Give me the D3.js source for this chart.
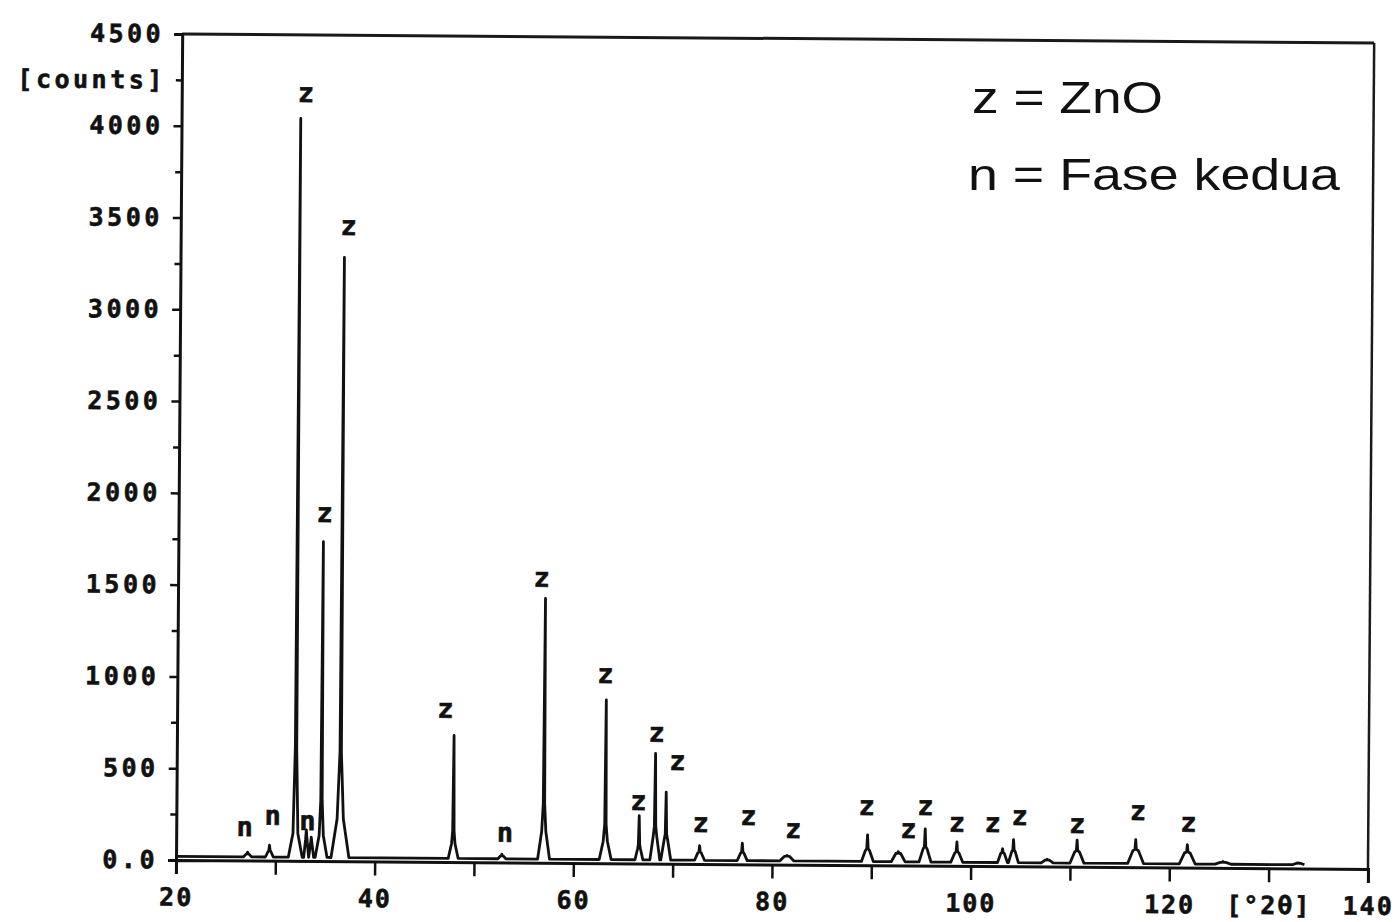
<!DOCTYPE html>
<html>
<head>
<meta charset="utf-8">
<script src="https://cdn.jsdelivr.net/npm/d3@7"></script>
<style>
body { margin: 0; background: #fff; }
svg { display: block; background: #fff; }
.mono { font-family: "DejaVu Sans Mono", monospace; font-weight: bold; fill: #111; stroke: #111; stroke-width: 0.6px; }
.legend { font-family: "Liberation Sans", Arial, sans-serif; fill: #111; }
</style>
</head>
<body>
<svg id="chart" width="1399" height="922"></svg>
<script>
// peaks: position (deg 2theta), top, foot level, half width at base
const peakTheta  = [27.2, 29.4, 32.0, 33.1, 33.6, 34.6, 36.5, 47.9, 52.8, 57.0, 63.2, 66.6, 68.2, 69.3, 72.7, 77.0, 81.5, 89.6, 92.7, 95.4, 98.6, 103.2, 104.3, 107.7, 110.7, 116.6, 121.8, 125.4, 133.0];
const peakCounts = [45, 85, 4045, 170, 130, 1740, 3290, 690, 45, 1440, 890, 260, 600, 390, 100, 115, 50, 165, 75, 200, 130, 95, 145, 40, 145, 150, 125, 35, 30];
const peakFoot   = [35, 50, 150, 110, 90, 140, 230, 100, 35, 170, 120, 80, 150, 130, 60, 60, 45, 80, 65, 90, 70, 70, 80, 35, 80, 90, 80, 30, 28];
const peakHalfW  = [0.4, 0.4, 0.7, 0.25, 0.25, 0.6, 0.9, 0.5, 0.4, 0.6, 0.6, 0.4, 0.5, 0.5, 0.5, 0.5, 0.7, 0.6, 0.7, 0.6, 0.6, 0.5, 0.5, 0.6, 0.7, 0.8, 0.8, 0.8, 0.6];
const baseCounts = 20;
const scanRange = [20, 133.6];

// phase labels above peaks
const labelText   = ["n", "n", "n", "n", "z", "z", "z", "z", "z", "z", "z", "z", "z", "z", "z", "z", "z", "z", "z", "z", "z", "z", "z", "z", "z"];
const labelTheta  = [26.9, 29.7, 33.2, 53.1, 32.5, 34.7, 36.9, 47.0, 56.6, 63.1, 66.5, 68.3, 70.4, 72.8, 77.6, 82.1, 89.5, 93.7, 95.4, 98.6, 102.2, 104.9, 110.7, 116.8, 121.9];
const labelCounts = [133, 195, 169, 112, 4134, 1847, 3412, 785, 1503, 982, 291, 663, 510, 174, 214, 145, 273, 149, 276, 185, 186, 225, 184, 257, 195];

// axes
const thetaTicks  = [20, 30, 40, 50, 60, 70, 80, 90, 100, 110, 120, 130, 140];
const thetaLabels = ["20", "", "40", "", "60", "", "80", "", "100", "", "120", "[°2θ]", "140"];
const countTicks  = [0, 500, 1000, 1500, 2000, 2500, 3000, 3500, 4000, 4500];
const countLabels = ["0.0", "500", "1000", "1500", "2000", "2500", "3000", "3500", "4000", "4500"];
const countMinor  = [250, 750, 1250, 1750, 2250, 2750, 3250, 3750, 4250];

const legendLines = ["z = ZnO", "n = Fase kedua"];

const svg = d3.select("#chart");

const plotLeft = 176, plotRight = 1368, plotTop = 34, plotBottom = 860;

const x = d3.scaleLinear().domain([20, 140]).range([plotLeft, plotRight]);
const y = d3.scaleLinear().domain([0, 4500]).range([plotBottom, plotTop]);

// the scanned plot sits slightly skewed
const plot = svg.append("g")
    .attr("transform", `rotate(0.43, ${plotLeft}, ${plotBottom})`);

// profile vertices built from the peak table
let profile = [[scanRange[0], baseCounts]];
peakTheta.forEach((p, i) => {
    const h = peakCounts[i], f = peakFoot[i], w = peakHalfW[i];
    const neck = f + (h - f) * 0.12;
    profile.push(
        [p - w, baseCounts], [p - 0.35 * w, f], [p - 0.07, neck], [p, h],
        [p + 0.07, neck], [p + 0.35 * w, f], [p + w, baseCounts]
    );
});
profile.push([scanRange[1], baseCounts]);
profile.sort((a, b) => a[0] - b[0]);

const line = d3.line()
    .x(d => x(d[0]))
    .y(d => y(d[1]));

plot.append("path")
    .datum(profile)
    .attr("d", line)
    .attr("fill", "none")
    .attr("stroke", "#111")
    .attr("stroke-width", 2.8)
    .attr("stroke-linejoin", "round");

// frame
plot.append("line")
    .attr("x1", x(20)).attr("x2", x(140))
    .attr("y1", y(4500)).attr("y2", y(4500))
    .attr("stroke", "#1a1a1a").attr("stroke-width", 3);
plot.append("line")
    .attr("x1", x(140)).attr("x2", x(140))
    .attr("y1", y(4500)).attr("y2", y(0))
    .attr("stroke", "#1a1a1a").attr("stroke-width", 2.5);

// y axis
const yAxis = plot.append("g")
    .attr("transform", `translate(${plotLeft},0)`)
    .call(d3.axisLeft(y).tickValues(countTicks).tickFormat((d, i) => countLabels[i]).tickSize(8).tickPadding(10));
plot.append("g")
    .attr("transform", `translate(${plotLeft},0)`)
    .call(d3.axisLeft(y).tickValues(countMinor).tickFormat("").tickSize(6))
    .select(".domain").remove();

// x axis
const xAxis = plot.append("g")
    .attr("transform", `translate(0,${plotBottom})`)
    .call(d3.axisBottom(x).tickValues(thetaTicks).tickFormat((d, i) => thetaLabels[i]).tickSize(14).tickPadding(14));

[xAxis, yAxis].forEach(g => {
    g.select(".domain").attr("stroke", "#111").attr("stroke-width", 3);
    g.selectAll(".tick text").attr("class", "mono").attr("font-size", 25).style("letter-spacing", "2px");
});
plot.selectAll(".tick line").attr("stroke", "#111").attr("stroke-width", 2.5);
yAxis.selectAll(".tick text").style("letter-spacing", "3.5px");

// unit label on the y axis
plot.append("text")
    .attr("class", "mono")
    .attr("x", 160)
    .attr("y", y(4250))
    .attr("dy", "0.35em")
    .attr("text-anchor", "end")
    .attr("font-size", 25)
    .style("letter-spacing", "3.5px")
    .text("[counts]");

// phase labels
plot.selectAll(".peak-label")
    .data(labelText)
    .enter()
    .append("text")
    .attr("class", "mono peak-label")
    .attr("x", (d, i) => x(labelTheta[i]))
    .attr("y", (d, i) => y(labelCounts[i]))
    .attr("text-anchor", "middle")
    .attr("font-size", 27)
    .text(d => d);

// legend
svg.selectAll(".legend")
    .data(legendLines)
    .enter()
    .append("text")
    .attr("class", "legend")
    .attr("x", (d, i) => i === 0 ? 972 : 968)
    .attr("y", (d, i) => i === 0 ? 113 : 190)
    .attr("font-size", 44)
    .attr("textLength", (d, i) => i === 0 ? 191 : 372)
    .attr("lengthAdjust", "spacingAndGlyphs")
    .text(d => d);
</script>
</body>
</html>
